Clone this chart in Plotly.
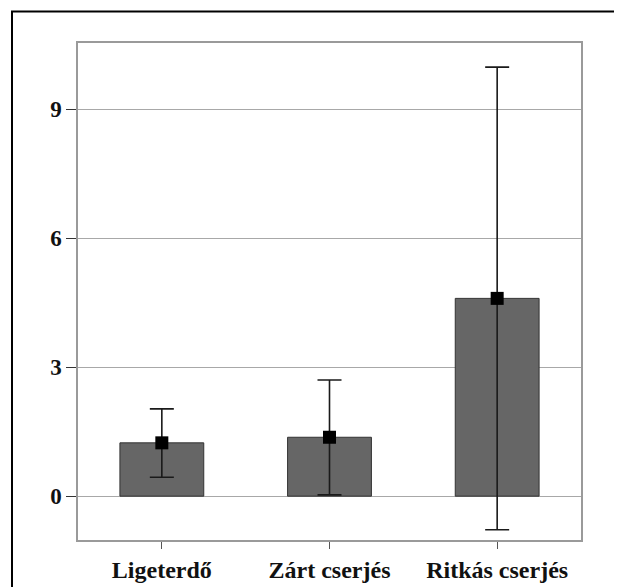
import plotly.graph_objects as go

categories = ["Ligeterdő", "Zárt cserjés", "Ritkás cserjés"]
means = [1.24, 1.37, 4.60]
upper = [2.03, 2.70, 9.98]
lower = [0.44, 0.03, -0.78]
y_ticks = [0, 3, 6, 9]

err_plus = [u - m for u, m in zip(upper, means)]
err_minus = [m - l for m, l in zip(means, lower)]

FONT = "Liberation Serif"

fig = go.Figure()
fig.add_trace(go.Bar(
    x=categories, y=means, width=0.5,
    marker=dict(color="#666666", line=dict(color="#333333", width=1)),
    showlegend=False, hoverinfo="skip",
))
fig.add_trace(go.Scatter(
    x=categories, y=means, mode="markers",
    marker=dict(symbol="square", size=13, color="black"),
    error_y=dict(type="data", symmetric=False, array=err_plus, arrayminus=err_minus,
                 color="#1a1a1a", thickness=1.6, width=12),
    showlegend=False,
))

OFF = 7
W, H = 622, 587
L, T = 77 - OFF, 42 - OFF
pw, ph = 503, 506
R, B = W - L - pw, H - T - ph

fig.update_layout(
    width=W, height=H,
    margin=dict(l=L, r=R, t=T, b=B, pad=0),
    paper_bgcolor="white", plot_bgcolor="white",
    font=dict(family=FONT, size=22, color="black"),
    xaxis=dict(
        range=[-0.5, 2.5], showgrid=False, zeroline=False,
        showline=True, linecolor="#9a9a9a", linewidth=1.5, mirror=True,
        ticks="outside", ticklen=7, tickcolor="#555555", tickwidth=1.2,
        tickfont=dict(family=FONT, size=24, color="#111111", weight="bold"),
    ),
    yaxis=dict(
        range=[-1.02, 10.54], tickvals=y_ticks, ticktext=[str(v) for v in y_ticks],
        showgrid=True, gridcolor="#a8a8a8", gridwidth=1.3, zeroline=False,
        showline=True, linecolor="#9a9a9a", linewidth=1.5, mirror=True,
        ticks="outside", ticklen=10, tickcolor="#333333", tickwidth=1.3,
        tickfont=dict(family=FONT, size=23, color="#111111", weight="bold"),
    ),
    shapes=[dict(
        type="rect", xref="paper", yref="paper",
        x0=(11 - OFF - L) / pw, x1=(W + 20 - L) / pw,
        y0=-(H + 20 - (T + ph)) / ph, y1=(T + ph - (10 - OFF)) / ph,
        line=dict(color="black", width=2), fillcolor="rgba(0,0,0,0)", layer="below",
    )],
)

fig.write_html("out.html")
